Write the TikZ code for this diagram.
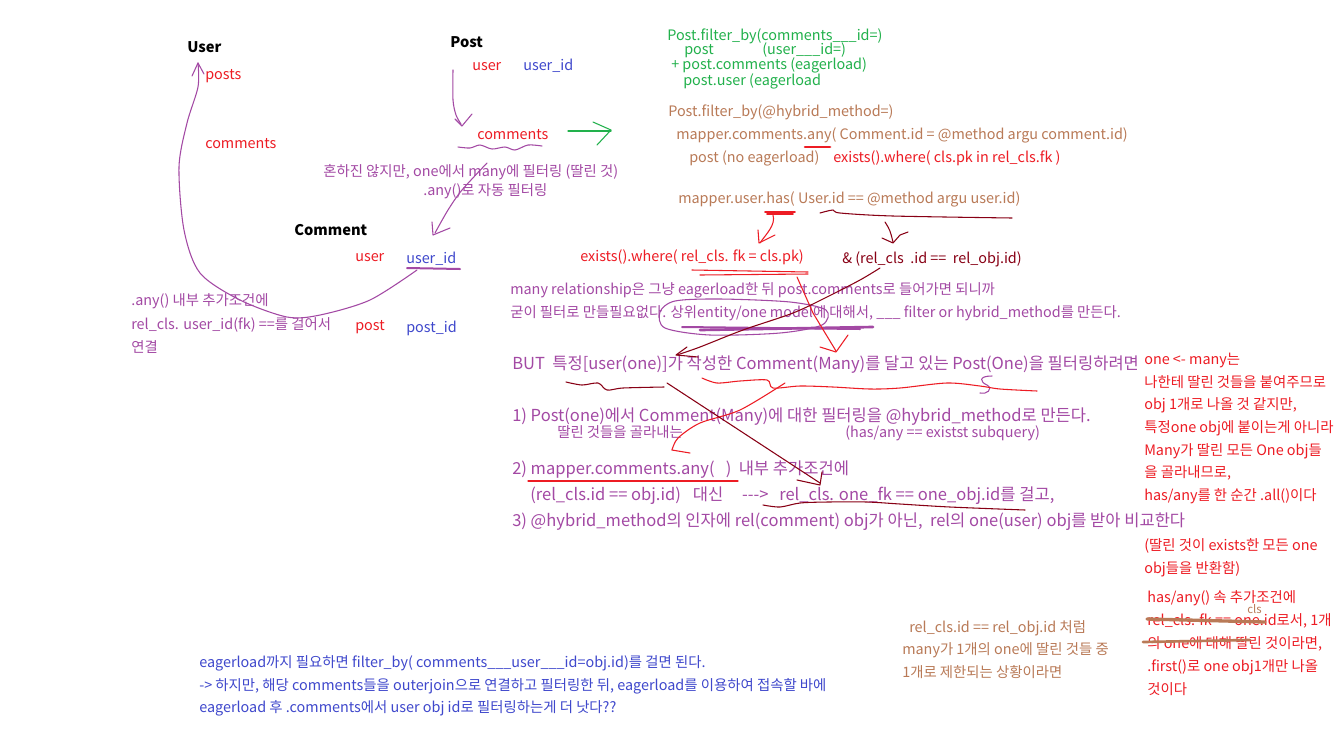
\documentclass[tikz,border=0pt]{standalone}
\usepackage{fontspec}
\setmainfont{Noto Sans CJK KR}
\usetikzlibrary{positioning}
\definecolor{inkred}{HTML}{ED1C24}
\definecolor{inkblue}{HTML}{3F48CC}
\definecolor{inkpurple}{HTML}{A349A4}
\definecolor{inkgreen}{HTML}{22B14C}
\definecolor{inkbrown}{HTML}{B97A57}
\definecolor{inkmaroon}{HTML}{880015}
\tikzset{
  memo/.style={inner sep=0pt, anchor=base west, font=\fontsize{10.8}{13}\selectfont},
  bigmemo/.style={memo, font=\fontsize{12.4}{15}\selectfont},
  sidememo/.style={memo, font=\fontsize{10.8}{13}\selectfont},
  model/.style={memo, font=\fontsize{11}{13}\selectfont\bfseries},
  pen/.style={line width=0.8pt, line cap=round, line join=round}
}

\begin{document}
\begin{tikzpicture}[x=0.75pt,y=-0.75pt]
\useasboundingbox (0,0) rectangle (1337,747);
\fill[white] (0,0) rectangle (1337,747);
% models and their fields
\node[model] (user) at (187,52) {User};
\node[model] (post) at (450,47) {Post};
\node[model] (comment) at (294,235) {Comment};
\node[memo, inkred] (userposts) at (205,79) {posts};
\node[memo, inkred] (usercomments) at (205,148) {comments};
\node[memo, inkred] (postuser) at (472,70) {user};
\node[memo, inkblue] (postuserid) at (523,70) {user\_id};
\node[memo, inkred] (postcomments) at (477,139) {comments};
\node[memo, inkred] (commentuser) at (355,261) {user};
\node[memo, inkblue] (commentuserid) at (406,263) {user\_id};
\node[memo, inkred] (commentpost) at (355,330) {post};
\node[memo, inkblue] (commentpostid) at (406,332) {post\_id};
% notes near the models
\node[memo, inkpurple] (rarenote) at (323,176) {혼하진 않지만, one에서 many에 필터링 (딸린 것)};
\node[memo, inkpurple] (autonote) at (423,195) {.any()로 자동 필터링};
\node[memo, inkpurple] (anynote1) at (131,305) {.any() 내부 추가조건에};
\node[memo, inkpurple] (anynote2) at (131,329) {rel\_cls. user\_id(fk) ==를 걸어서};
\node[memo, inkpurple] (anynote3) at (131,352) {연결};
% green block
\node[memo, inkgreen] (green1) at (667,40) {Post.filter\_by(comments\_\_\_id=)};
\node[memo, inkgreen] (green2) at (684,54) {post};
\node[memo, inkgreen] (green3) at (762,54) {(user\_\_\_id=)};
\node[memo, inkgreen] (green4) at (671,69) {+ post.comments (eagerload)};
\node[memo, inkgreen] (green5) at (683,85) {post.user (eagerload};
% hybrid method block
\node[memo, inkbrown] (hyb1) at (668,116) {Post.filter\_by(@hybrid\_method=)};
\node[memo, inkbrown] (hyb2) at (676,139) {mapper.comments.any( Comment.id = @method argu comment.id)};
\node[memo, inkbrown] (hyb3) at (689,162) {post (no eagerload)};
\node[memo, inkred] (hyb4) at (833,162) {exists().where( cls.pk in rel\_cls.fk )};
\node[memo, inkbrown] (hyb5) at (678,203) {mapper.user.has( User.id == @method argu user.id)};
\node[memo, inkred] (exist) at (580,261) {exists().where( rel\_cls. fk = cls.pk)};
\node[memo, inkmaroon] (andid) at (842,263) {\& (rel\_cls\ \ .id ==\ \ rel\_obj.id)};
\node[memo, inkpurple] (many1) at (510,294) {many relationship은 그냥 eagerload한 뒤 post.comments로 들어가면 되니까};
\node[memo, inkpurple] (many2) at (510,317) {굳이 필터로 만들필요없다. 상위entity/one model에 대해서, \_\_\_ filter or hybrid\_method를 만든다.};
% main steps
\node[bigmemo, inkpurple] (but) at (512,369) {BUT\ \ 특정[user(one)]가 작성한 Comment(Many)를 달고 있는 Post(One)을 필터링하려면};
\node[bigmemo, inkpurple] (step1) at (512,421) {1) Post(one)에서 Comment(Many)에 대한 필터링을 @hybrid\_method로 만든다.};
\node[memo, inkpurple] (step1a) at (557,437) {딸린 것들을 골라내는};
\node[memo, inkpurple] (step1b) at (845,437) {(has/any == existst subquery)};
\node[bigmemo, inkpurple] (step2) at (512,474) {2) mapper.comments.any(\ \ \ )\ \ 내부 추가조건에};
\node[bigmemo, inkpurple] (step2a) at (530,500) {(rel\_cls.id == obj.id)\hspace*{9pt}대신\hspace*{14pt}-{}-{}->};
\node[bigmemo, inkpurple] (step2b) at (779,500) {rel\_cls. one\_fk == one\_obj.id를 걸고,};
\node[bigmemo, inkpurple] (step3) at (512,526) {3) @hybrid\_method의 인자에 rel(comment) obj가 아닌,\ \ rel의 one(user) obj를 받아 비교한다};
% right side notes
\node[sidememo, inkred] (side1) at (1144,364) {one <- many는};
\node[sidememo, inkred] (side2) at (1144,387) {나한테 딸린 것들을 붙여주므로};
\node[sidememo, inkred] (side3) at (1144,409) {obj 1개로 나올 것 같지만,};
\node[sidememo, inkred] (side4) at (1144,432) {특정one obj에 붙이는게 아니라};
\node[sidememo, inkred] (side5) at (1144,455) {Many가 딸린 모든 One obj들};
\node[sidememo, inkred] (side6) at (1144,477) {을 골라내므로,};
\node[sidememo, inkred] (side7) at (1144,500) {has/any를 한 순간 .all()이다};
\node[sidememo, inkred] (side8) at (1144,550) {(딸린 것이 exists한 모든 one};
\node[sidememo, inkred] (side9) at (1144,573) {obj들을 반환함)};
\node[sidememo, inkred] (first1) at (1147,602) {has/any() 속 추가조건에};
\node[sidememo, inkred] (first2) at (1147,625) {rel\_cls. fk == one.id로서, 1개};
\node[sidememo, inkred] (first3) at (1147,648) {의 one에 대해 딸린 것이라면,};
\node[sidememo, inkred] (first4) at (1147,671) {.first()로 one obj1개만 나올};
\node[sidememo, inkred] (first5) at (1147,694) {것이다};
\node[memo, inkbrown, font=\fontsize{8.5}{9}\selectfont] (clsmark) at (1247,613) {cls};
% brown note
\node[memo, inkbrown] (limit1) at (909,632) {rel\_cls.id == rel\_obj.id 처럼};
\node[memo, inkbrown] (limit2) at (902,654) {many가 1개의 one에 딸린 것들 중};
\node[memo, inkbrown] (limit3) at (902,677) {1개로 제한되는 상황이라면};
% bottom note
\node[memo, inkblue] (eager1) at (199,667) {eagerload까지 필요하면 filter\_by( comments\_\_\_user\_\_\_id=obj.id)를 걸면 된다.};
\node[memo, inkblue] (eager2) at (199,690) {-> 하지만, 해당 comments들을 outerjoin으로 연결하고 필터링한 뒤, eagerload를 이용하여 접속할 바에};
\node[memo, inkblue] (eager3) at (199,712) {eagerload 후 .comments에서 user obj id로 필터링하는게 더 낫다??};

% purple pen strokes
\draw[pen, inkpurple, line width=1.5pt] (407,268) -- (460,269);
\draw[pen, inkpurple] plot[smooth] coordinates {(417,270) (370,300) (320,315) (287,317) (240,300) (200,273) (184,230) (179,167) (187,123) (198,87) (198,63)};
\draw[pen, inkpurple] (192,76) -- (198,63) -- (204,74);
\draw[pen, inkpurple] plot[smooth] coordinates {(453,70) (453,100) (456,115) (461,124)};
\draw[pen, inkpurple] (455,119) -- (462,126) -- (472,114);
\draw[pen, inkpurple] plot[smooth] coordinates {(458,147) (470,148) (480,145) (492,149) (505,147) (515,150) (528,145) (542,146)};
\draw[pen, inkpurple] plot[smooth] coordinates {(487,163) (462,190) (448,210) (435,233)};
\draw[pen, inkpurple] (432,222) -- (433,235) -- (450,228);
\draw[pen, inkpurple] plot[smooth cycle] coordinates {(660,312) (675,301) (720,299) (790,302) (826,310) (822,325) (780,333) (710,335) (665,328)};
\draw[pen, inkpurple, line width=2pt] (700,330) -- (873,327);
\draw[pen, inkpurple, line width=1.5pt] (682,327) -- (860,329);
\draw[pen, inkpurple] (992,376) .. controls (978,376) and (980,382) .. (987,385) .. controls (994,389) and (986,395) .. (980,393);

% green arrow
\draw[pen, inkgreen] (568,131) -- (611,131);
\draw[pen, inkgreen] (593,122) -- (611,130) -- (597,145);

% red pen strokes
\draw[pen, inkred, line width=2pt] (805,147) -- (830,147);
\draw[pen, inkred, line width=1.2pt] (765,212) -- (795,212) (767,214) -- (793,214);
\draw[pen, inkred] (773,215) .. controls (776,225) and (766,234) .. (760,243);
\draw[pen, inkred] (758,230) -- (759,243) -- (775,235);
\draw[pen, inkred] (692,270) -- (808,272) (700,275) -- (808,274);
\draw[pen, inkred] (797,277) -- (813,313) -- (836,351);
\draw[pen, inkred] (820,347) -- (836,352) -- (848,335);
\draw[pen, inkred] plot[smooth] coordinates {(702,378) (717,383) (740,381) (767,380) (773,388) (800,386) (833,387) (870,389) (900,388) (947,383) (980,386) (1000,389) (1037,391)};
\draw[pen, inkred] plot[smooth] coordinates {(785,383) (740,410) (700,423) (678,438) (672,450)};
\draw[pen, inkred] (690,453) -- (672,450);
\draw[pen, inkred] (528,481) -- (738,481);

% maroon pen strokes
\draw[pen, inkmaroon] plot[smooth] coordinates {(820,213) (833,210) (840,213) (893,216) (1012,218)};
\draw[pen, inkmaroon] (885,222) .. controls (890,230) .. (893,242);
\draw[pen, inkmaroon] (882,238) -- (893,243) -- (900,235) -- (908,232);
\draw[pen, inkmaroon] plot[smooth] coordinates {(880,268) (860,280) (827,297) (793,313) (743,330) (700,347) (677,355)};
\draw[pen, inkmaroon] (687,347) -- (676,355) -- (698,357);
\draw[pen, inkmaroon] plot[smooth] coordinates {(566,382) (582,385) (598,383) (607,390) (623,388) (664,387)};
\draw[pen, inkmaroon] (667,383) -- (820,483);
\draw[pen, inkmaroon] (797,480) -- (820,485) -- (822,472);
\draw[pen, inkmaroon] plot[smooth] coordinates {(763,505) (780,507) (800,503) (828,502) (867,502) (900,504) (950,507) (1025,510)};

% brown strike-outs
\draw[pen, inkbrown, line width=2.5pt] (1147,619) -- (1265,622);
\draw[pen, inkbrown, line width=2pt] (1143,642) -- (1250,640);
\end{tikzpicture}
\end{document}
